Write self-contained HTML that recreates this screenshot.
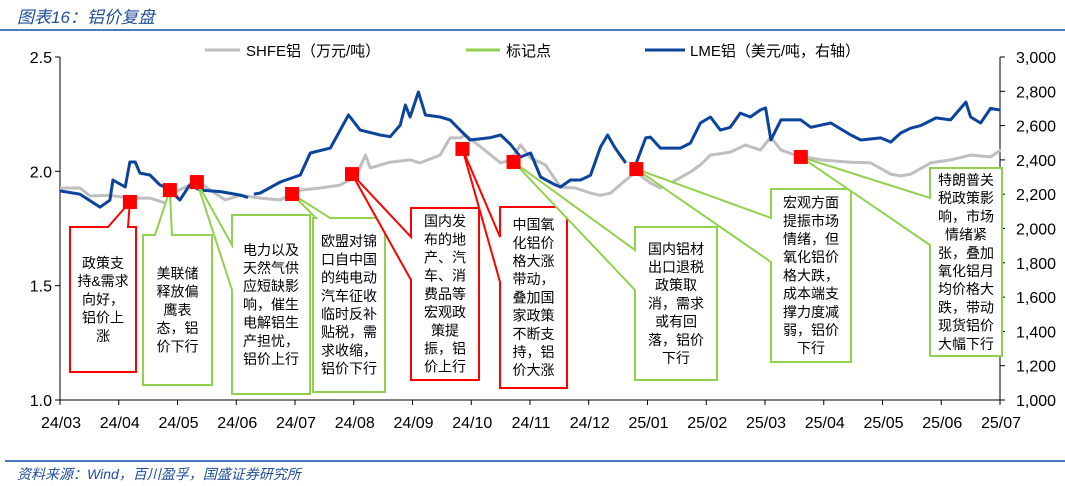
<!DOCTYPE html>
<html><head><meta charset="utf-8">
<style>
html,body{margin:0;padding:0;background:#fff;}
body{width:1065px;height:486px;overflow:hidden;position:relative;font-family:"Liberation Sans","Noto Sans CJK SC",sans-serif;}
#hdr{position:absolute;left:17px;top:3px;font-size:17px;color:#1f4e9c;font-style:italic;}
#hl{position:absolute;left:5px;top:29px;width:295px;height:2px;background:#4a7cc2;}
#hl2{position:absolute;left:0;top:29px;width:1065px;height:2px;background:#4a7cc2;}
#fl{position:absolute;left:5px;top:460px;width:1060px;height:2px;background:#4a7cc2;}
#ftr{position:absolute;left:17px;top:464px;font-size:14px;color:#1f4e9c;font-style:italic;}
svg{position:absolute;left:0;top:0;}
</style></head><body>
<div id="hl2"></div>
<div id="hdr">图表16：铝价复盘</div>
<svg id="chart" width="1065" height="486"></svg>
<div id="fl"></div>
<div id="ftr">资料来源：Wind，百川盈孚，国盛证券研究所</div>
<script>
const monthLabels=["24/03","24/04","24/05","24/06","24/07","24/08","24/09","24/10","24/11","24/12","25/01","25/02","25/03","25/04","25/05","25/06","25/07"];
const leftTicks=[1.0,1.5,2.0,2.5];
const rightTicks=[1000,1200,1400,1600,1800,2000,2200,2400,2600,2800,3000];
const shfeT=[0,0.34,0.51,0.85,1.19,1.53,1.79,1.96,2.21,2.39,2.56,2.81,3.07,3.41,3.75,4.09,4.43,4.77,5.03,5.2,5.28,5.62,5.96,6.13,6.47,6.64,6.81,6.9,7.16,7.5,7.67,7.84,8.01,8.26,8.52,8.77,9.03,9.2,9.37,9.63,9.8,10.05,10.22,10.39,10.73,10.9,11.07,11.41,11.67,11.92,12.1,12.27,12.52,12.95,13.46,13.8,14.14,14.31,14.48,14.82,15.16,15.5,15.84,16.01];
const shfeV=[1.927,1.927,1.892,1.895,1.883,1.883,1.862,1.91,1.94,1.948,1.918,1.875,1.895,1.883,1.875,1.918,1.927,1.94,1.975,2.071,2.015,2.04,2.05,2.037,2.071,2.146,2.146,2.159,2.107,2.037,2.05,2.115,2.058,2.028,1.931,1.927,1.905,1.895,1.905,1.962,1.997,1.949,1.927,1.948,1.997,2.028,2.071,2.084,2.115,2.093,2.15,2.093,2.071,2.05,2.04,2.037,1.988,1.98,1.988,2.037,2.05,2.071,2.063,2.093];
const lmeT=[0,0.34,0.68,0.85,0.9,1.11,1.19,1.28,1.36,1.53,1.7,1.79,1.87,2.04,2.21,2.39,2.73,3.07,3.2,null,3.3,3.41,3.75,4.09,4.26,4.6,4.77,4.91,5.11,5.45,5.62,5.79,5.88,5.96,6.1,6.22,6.47,6.64,6.81,6.98,7.33,7.5,7.67,7.84,8.01,8.18,8.43,8.52,8.69,8.86,9.03,9.2,9.32,9.45,9.63,null,9.81,9.97,10.05,10.22,10.56,10.73,10.9,11.07,11.24,11.41,11.58,11.75,11.92,12.01,12.1,12.27,12.61,12.78,13.12,13.46,13.63,13.97,14.14,14.31,14.48,14.65,14.91,15.16,15.42,15.5,15.67,15.84,16.01];
const lmeV=[2219,2200,2125,2165,2283,2242,2388,2388,2323,2312,2254,2240,2224,2166,2254,2224,2215,2195,2180,null,2200,2207,2271,2312,2440,2469,2574,2662,2574,2545,2535,2603,2720,2650,2796,2662,2650,2633,2574,2516,2530,2545,2490,2417,2440,2300,2254,2242,2283,2283,2310,2475,2545,2469,2382,null,2382,2528,2533,2469,2469,2498,2615,2650,2574,2590,2673,2650,2691,2703,2516,2633,2633,2590,2615,2545,2516,2528,2504,2557,2585,2600,2645,2633,2737,2650,2615,2700,2690];
const markT=[1.19,1.87,2.33,3.95,4.97,6.85,7.72,9.81,12.61];
const markV=[1.866,1.918,1.953,1.901,1.988,2.098,2.041,2.01,2.063];
const notes=[
 {c:"red",x:70,y:227,w:66,h:145,wedge:["top",108,128],lines:["政策支","持&需求","向好，","铝价上","涨"]},
 {c:"green",x:143,y:235,w:69,h:150,wedge:["top",155,172],lines:["美联储","释放偏","鹰表","态，铝","价下行"]},
 {c:"green",x:232,y:215,w:78,h:179,wedge:["left",245,290],lines:["电力以及","天然气供","应短缺影","响，催生","电解铝生","产担忧，","铝价上行"]},
 {c:"green",x:313,y:218,w:72,h:174,wedge:["top",316,330],lines:["欧盟对锦","口自中国","的纯电动","汽车征收","临时反补","贴税，需","求收缩，","铝价下行"]},
 {c:"red",x:411,y:208,w:68,h:172,wedge:["left",237,280],lines:["国内发","布的地","产、汽","车、消","费品等","宏观政","策提","振，铝","价上行"]},
 {c:"red",x:500,y:207,w:67,h:181,wedge:["left",237,282],lines:["中国氧","化铝价","格大涨","带动，","叠加国","家政策","不断支","持，铝","价大涨"]},
 {c:"green",x:635,y:227,w:82,h:153,wedge:["left",250,290],lines:["国内铝材","出口退税","政策取","消，需求","或有回","落，铝价","下行"]},
 {c:"green",x:771,y:189,w:80,h:173,wedge:["left",218,262],lines:["宏观方面","提振市场","情绪，但","氧化铝价","格大跌，","成本端支","撑力度减","弱，铝价","下行"]},
 {c:"green",x:930,y:168,w:72,h:188,wedge:["left",198,245],lines:["特朗普关","税政策影","响，市场","情绪紧","张，叠加","氧化铝月","均价格大","跌，带动","现货铝价","大幅下行"]}
];
const NS="http://www.w3.org/2000/svg";
const svg=document.getElementById('chart');
const X0=60,X1=1000,Y0=400,Y1=57;
const xS=t=>X0+t*(X1-X0)/16;
const yL=v=>Y0-(v-1)/1.5*(Y0-Y1);
const yR=v=>Y0-(v-1000)/2000*(Y0-Y1);
function mk(tag,attrs,parent){const e=document.createElementNS(NS,tag);for(const k in attrs)e.setAttribute(k,attrs[k]);(parent||svg).appendChild(e);return e;}
const COL={red:"#ff0000",green:"#92d050"};
// axes
let a=mk('line',{x1:X0,y1:Y1,x2:X0,y2:Y0,stroke:'#000','stroke-width':1});

a=mk('line',{x1:X1,y1:Y1,x2:X1,y2:Y0,stroke:'#000','stroke-width':1});

a=mk('line',{x1:X0,y1:Y0,x2:X1,y2:Y0,stroke:'#000','stroke-width':1});

leftTicks.forEach(v=>{const y=yL(v);
 mk('line',{x1:X0-5,y1:y,x2:X0,y2:y,stroke:'#000'});
 const t=mk('text',{x:52,y:y+6,'text-anchor':'end','font-size':16,fill:'#000'});t.textContent=v.toFixed(1);
 });
rightTicks.forEach(v=>{const y=yR(v);
 mk('line',{x1:X1,y1:y,x2:X1+5,y2:y,stroke:'#000'});
 const t=mk('text',{x:1016,y:y+6,'font-size':16,fill:'#000'});t.textContent=v.toLocaleString('en-US');
 });
monthLabels.forEach((m,i)=>{const x=xS(i);
 mk('line',{x1:x,y1:Y0,x2:x,y2:Y0+5,stroke:'#000'});
 const t=mk('text',{x:x+1,y:428,'text-anchor':'middle','font-size':16,fill:'#000'});t.textContent=m;
 });
function pathOf(T,V,ys){let d='',pen=false;T.forEach((t,i)=>{if(t===null||V[i]===null){pen=false;return;}d+=(pen?'L':'M')+xS(t).toFixed(1)+','+ys(V[i]).toFixed(1);pen=true;});return d;}
let p=mk('path',{d:pathOf(shfeT,shfeV,yL),fill:'none',stroke:'#bfbfbf','stroke-width':3,'stroke-linejoin':'round'});

p=mk('path',{d:pathOf(lmeT,lmeV,yR),fill:'none',stroke:'#0b449a','stroke-width':3,'stroke-linejoin':'round'});

// callouts
notes.forEach((n,i)=>{
 const mx=xS(markT[i]),my=yL(markV[i]);
 const g=mk('g',{});
 
 const x=n.x,y=n.y,w=n.w,h=n.h;let pts;
 if(n.wedge[0]==='top'){pts=[[x,y],[n.wedge[1],y],[mx,my],[n.wedge[2],y],[x+w,y],[x+w,y+h],[x,y+h]];}
 else{pts=[[x,y],[x+w,y],[x+w,y+h],[x,y+h],[x,n.wedge[2]],[mx,my],[x,n.wedge[1]]];}
 mk('polygon',{points:pts.map(q=>q.join(',')).join(' '),fill:'#fff',stroke:COL[n.c],'stroke-width':2},g);
 const lh=18.2,top=y+h/2-(n.lines.length*lh)/2+14;
 n.lines.forEach((l,j)=>{const t=mk('text',{x:x+w/2,y:top+j*lh,'text-anchor':'middle','font-size':14,fill:'#000'},g);t.textContent=l;});
});
markT.forEach((t,i)=>{const r=mk('rect',{x:xS(t)-7,y:yL(markV[i])-7,width:14,height:14,fill:'#ff0000'});
 });
// legend
const lg=mk('g',{});
[[205,240,'#bfbfbf','SHFE铝（万元/吨）',246],[466,500,'#92d050','标记点',506],[645,685,'#0b449a','LME铝（美元/吨，右轴）',690]].forEach(e=>{
 const g=mk('g',{},lg);
 mk('line',{x1:e[0],y1:50,x2:e[1],y2:50,stroke:e[2],'stroke-width':3},g);
 const t=mk('text',{x:e[4],y:56,'font-size':15,fill:'#000'},g);t.textContent=e[3];});
</script>
</body></html>
